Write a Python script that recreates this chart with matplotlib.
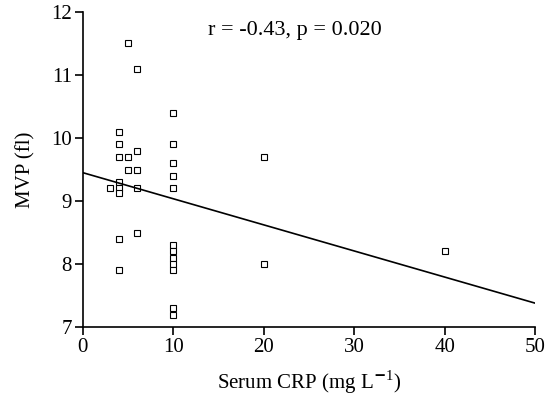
import numpy as np
import matplotlib
matplotlib.use('Agg')
import matplotlib.pyplot as plt

plt.rcParams['font.family'] = ['Liberation Serif', 'DejaVu Serif']
plt.rcParams['mathtext.fontset'] = 'custom'
plt.rcParams['mathtext.rm'] = 'Liberation Serif'

# serum CRP (mg/L) and MVP (fl)
crp = [3,
       4, 4, 4, 4, 4, 4, 4, 4,
       5, 5, 5,
       6, 6, 6, 6, 6,
       10, 10, 10, 10, 10, 10, 10, 10, 10, 10, 10, 10,
       20, 20,
       40]
mvp = [9.2,
       10.1, 9.9, 9.7, 9.3, 9.2, 9.12, 8.4, 7.9,
       11.5, 9.7, 9.5,
       11.1, 9.8, 9.5, 9.2, 8.5,
       10.4, 9.9, 9.6, 9.4, 9.2, 8.3, 8.2, 8.1, 8.0, 7.9, 7.3, 7.2,
       9.7, 8.0,
       8.2]

# fitted line
intercept = 9.45
slope = -0.0414
stats_text = 'r = -0.43, p = 0.020'

fig = plt.figure(figsize=(5.45, 3.97), dpi=100)
ax = fig.add_axes([0.152, 0.176, 0.830, 0.794])

ax.plot(crp, mvp, linestyle='none', marker='s', markersize=4.2,
        markerfacecolor='white', markeredgecolor='black', markeredgewidth=0.8)

xs = np.array([0, 50])
ax.plot(xs, intercept + slope * xs, color='black', linewidth=1.2)

ax.set_xlim(0, 50)
ax.set_ylim(7, 12)
ax.set_xticks([0, 10, 20, 30, 40, 50])
ax.set_yticks([7, 8, 9, 10, 11, 12])
ax.spines['top'].set_visible(False)
ax.spines['right'].set_visible(False)
for s in ['left', 'bottom']:
    ax.spines[s].set_linewidth(1.2)
ax.tick_params(direction='out', length=6, width=1.2, labelsize=15, pad=2)

ax.set_xlabel('Serum CRP (mg L$^{\\mathbf{-}1}$)', fontsize=15, labelpad=8)
ax.set_ylabel('MVP (fl)', fontsize=15, labelpad=11)
ax.text(0.468, 0.94, stats_text, transform=ax.transAxes, fontsize=16,
        ha='center', va='center')

fig.savefig('out.png', dpi=100)
